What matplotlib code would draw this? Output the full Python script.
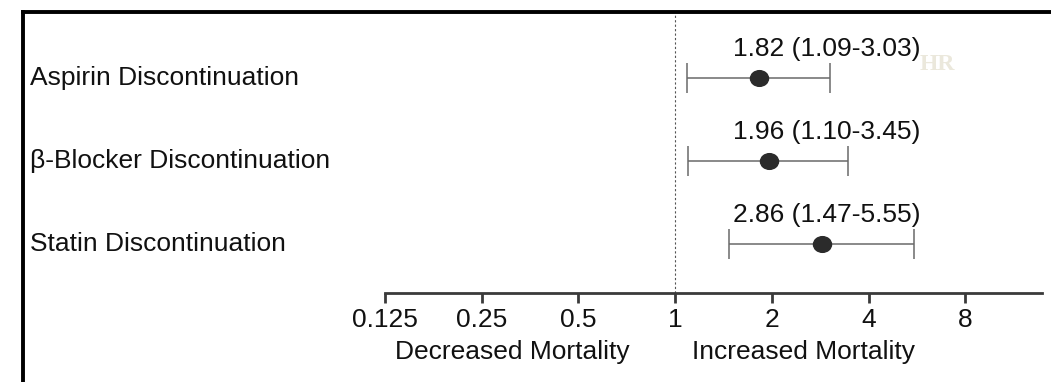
import matplotlib
matplotlib.use("Agg")
import matplotlib.pyplot as plt
from matplotlib.lines import Line2D
from matplotlib.path import Path
from matplotlib.transforms import blended_transform_factory, Affine2D
import numpy as np

# ---- data ----
categories = ["Aspirin Discontinuation", "\u03b2-Blocker Discontinuation", "Statin Discontinuation"]
hr = [1.82, 1.96, 2.86]
ci_low = [1.09, 1.10, 1.47]
ci_high = [3.03, 3.45, 5.55]
tick_values = [0.125, 0.25, 0.5, 1, 2, 4, 8]
tick_labels = ["0.125", "0.25", "0.5", "1", "2", "4", "8"]
left_label = "Decreased Mortality"
right_label = "Increased Mortality"

plt.rcParams['font.family'] = ['Liberation Sans', 'DejaVu Sans']
FS = 19
TXT = '#111111'

W, H = 1051, 382
fig = plt.figure(figsize=(W / 100, H / 100), dpi=100)

ax_l, ax_r, ax_b, ax_t = 385, 1042, 293, 14
ax = fig.add_axes([ax_l / W, 1 - ax_b / H, (ax_r - ax_l) / W, (ax_b - ax_t) / H])

xmax = 8 * 2 ** ((ax_r - 965) / 97)
ax.set_xscale('log', base=2)
ax.set_xlim(0.125, xmax)
ax.set_ylim(2.59, -0.77)

y = np.arange(len(categories))
hr_a = np.array(hr)
err = [hr_a - np.array(ci_low), np.array(ci_high) - hr_a]
ax.errorbar(hr, y, xerr=err, fmt='none', ecolor='#6a6a6a', elinewidth=1.1,
            capsize=11, capthick=1.1, zorder=2)

ellipse = Path.unit_circle().transformed(Affine2D().scale(1.15, 1.0))
ax.plot(hr, y, linestyle='none', marker=ellipse, color='#2b2b2b', markersize=13, zorder=3)

ax.axvline(1, color='#555555', linestyle=(0, (2, 2)), linewidth=0.8, zorder=1)

for s in ['top', 'right', 'left']:
    ax.spines[s].set_visible(False)
ax.spines['bottom'].set_color('#3a3a3a')
ax.spines['bottom'].set_linewidth(2)
ax.set_yticks([])
ax.set_xticks(tick_values)
ax.set_xticklabels(tick_labels)
ax.minorticks_off()
ax.tick_params(axis='x', direction='out', length=7, width=2, color='#3a3a3a',
               labelsize=FS, pad=4, labelcolor=TXT)

trans = blended_transform_factory(fig.transFigure, ax.transData)
for i, c in enumerate(categories):
    ax.text(30 / W, i, c, transform=trans, fontsize=FS, va='center', ha='left', color=TXT)
    ax.text(733 / W, i - 0.35, f"{hr[i]:.2f} ({ci_low[i]:.2f}-{ci_high[i]:.2f})",
            transform=trans, fontsize=FS, va='center', ha='left', color=TXT)

fig.text(512 / W, 1 - 352 / H, left_label, fontsize=FS, ha='center', va='center', color=TXT)
fig.text(804 / W, 1 - 352 / H, right_label, fontsize=FS, ha='center', va='center', color=TXT)

fig.text(937 / W, 1 - 65 / H, "HR", fontsize=17, ha='center', va='center',
         color='#ebe8dc', family=['Liberation Serif', 'DejaVu Serif'], fontweight='bold')

# frame
fig.add_artist(Line2D([22.5 / W, 22.5 / W], [0, 1 - 11.5 / H], transform=fig.transFigure,
                      color='black', linewidth=2.8, solid_capstyle='projecting'))
fig.add_artist(Line2D([22.5 / W, 1], [1 - 11.5 / H, 1 - 11.5 / H], transform=fig.transFigure,
                      color='black', linewidth=2.8, solid_capstyle='projecting'))

fig.savefig("out.png", dpi=100)
